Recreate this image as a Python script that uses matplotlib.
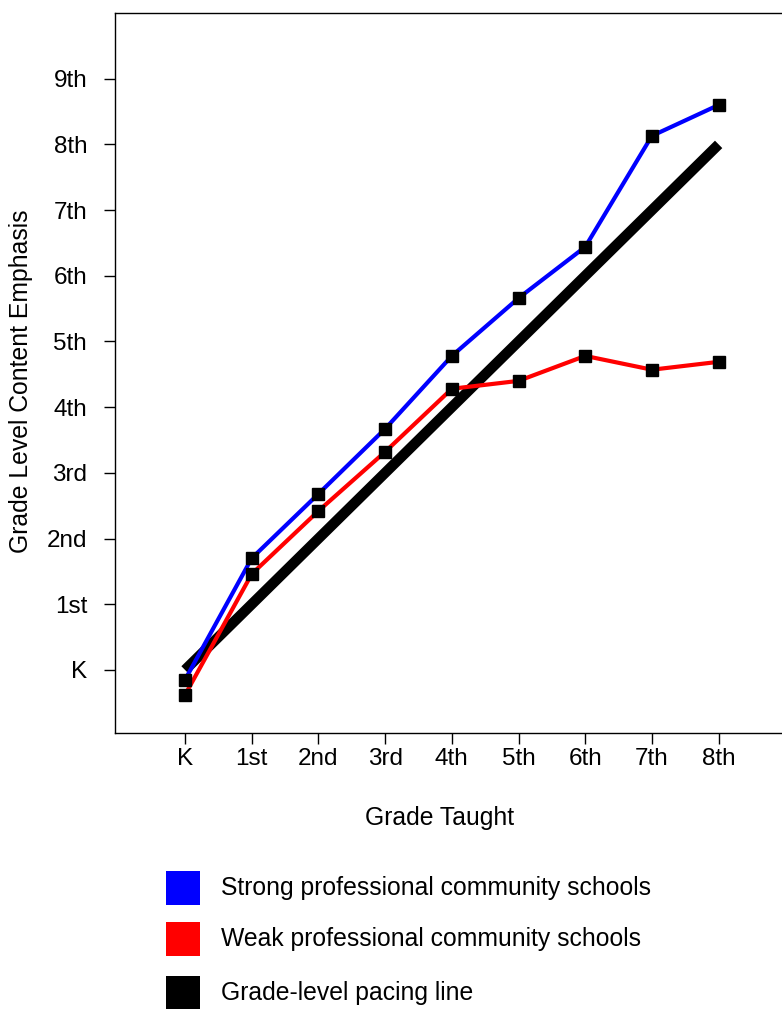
import matplotlib
matplotlib.use("Agg")
import matplotlib.pyplot as plt
from matplotlib.patches import Rectangle

plt.rcParams['font.family'] = ['Liberation Sans', 'DejaVu Sans']

grades = ["K", "1st", "2nd", "3rd", "4th", "5th", "6th", "7th", "8th"]
y_labels = ["K", "1st", "2nd", "3rd", "4th", "5th", "6th", "7th", "8th", "9th"]
strong = [-0.15, 1.70, 2.68, 3.67, 4.78, 5.66, 6.44, 8.13, 8.60]
weak = [-0.38, 1.46, 2.42, 3.32, 4.28, 4.40, 4.78, 4.57, 4.69]
pacing = [0, 8]
pacing_x = [0, 8]

FS_TICK = 17.5
FS = 17.8

fig = plt.figure(figsize=(7.82, 10.09), dpi=100)
ax = fig.add_axes([115/782, 1 - 733/1009, 1 - 115/782, (733 - 13)/1009])

x = list(range(len(grades)))
ax.plot(pacing_x, pacing, color='black', lw=7.5, solid_capstyle='butt', zorder=2)
ax.plot(x, strong, color='#0000ff', lw=3, zorder=3)
ax.plot(x, weak, color='#ff0000', lw=3, zorder=4)
ax.plot(x, strong, ls='none', marker='s', ms=9, color='black', zorder=5)
ax.plot(x, weak, ls='none', marker='s', ms=9, color='black', zorder=5)

ax.set_xlim(-1.05, 8.95)
ax.set_ylim(-0.96, 10.0)
ax.set_xticks(x)
ax.set_xticklabels(grades, fontsize=FS_TICK)
ax.set_yticks(range(len(y_labels)))
ax.set_yticklabels(y_labels, fontsize=FS_TICK)
ax.tick_params(axis='y', direction='out', length=8, width=1, pad=12)
ax.tick_params(axis='x', direction='out', length=8, width=1, pad=3)
ax.spines['right'].set_visible(False)
for s in ['left', 'top', 'bottom']:
    ax.spines[s].set_linewidth(1)

fig.text(440/782, 1 - 818/1009, "Grade Taught", fontsize=FS, ha='center', va='center')
fig.text(21/782, 1 - 381/1009, "Grade Level Content Emphasis", fontsize=FS,
         ha='center', va='center', rotation=90)

legend_items = [("Strong professional community schools", '#0000ff', 888),
                ("Weak professional community schools", '#ff0000', 939),
                ("Grade-level pacing line", 'black', 993)]
for label, col, yc in legend_items:
    fig.patches.append(Rectangle((166/782, 1 - (yc + 17)/1009), 34/782, 34/1009,
                                 transform=fig.transFigure, facecolor=col, edgecolor='none'))
    fig.text(221/782, 1 - yc/1009, label, fontsize=FS, ha='left', va='center')

fig.savefig("out.png", dpi=100)
